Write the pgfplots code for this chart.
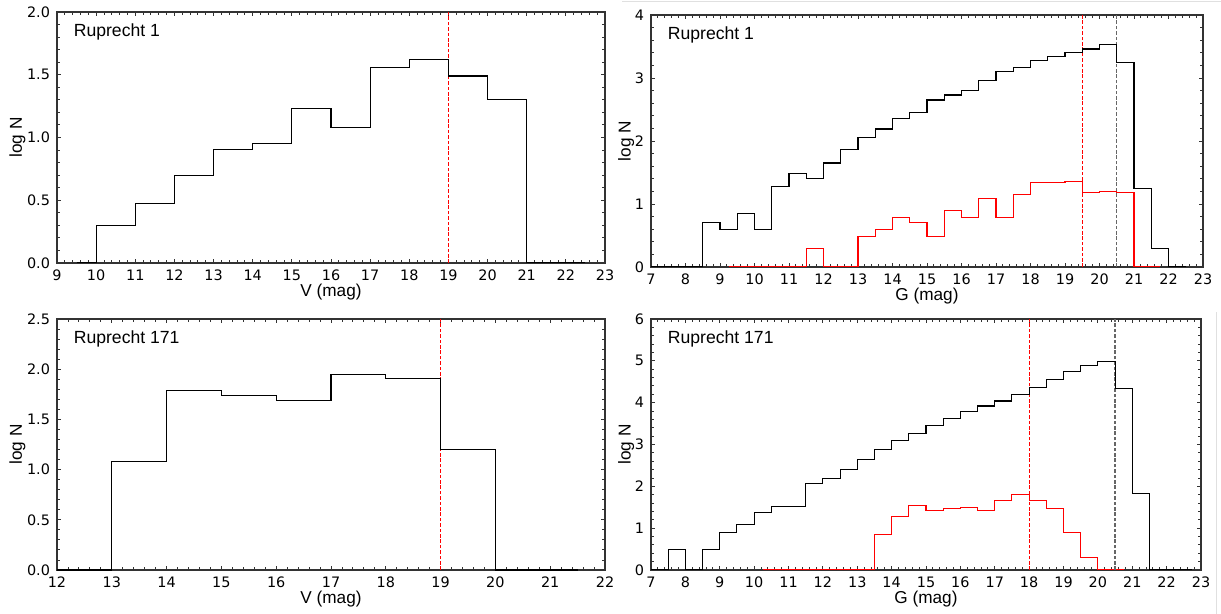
\documentclass[border=0pt]{standalone}
\usepackage{fontspec}
\setmainfont{Liberation Sans}
\newfontfamily\tickfont{DejaVu Sans}
\usepackage{pgfplots}
\pgfplotsset{compat=1.18}

\pgfplotsset{
  lfpanel/.style={
    scale only axis,
    anchor=north west,
    axis line style={black!80,line width=0.6pt},
    tick align=inside,
    xtick pos=both, ytick pos=both,
    xticklabel pos=lower, yticklabel pos=left,
    major tick length=2.2pt, minor tick length=1.3pt,
    every tick/.style={black!80,line width=0.45pt},
    minor x tick num=4, minor y tick num=4,
    tick label style={font=\tickfont\fontsize{7.2}{8}\selectfont},
    /pgf/number format/assume math mode=true,
    label style={font=\fontsize{8.6}{10}\selectfont},
    xlabel style={at={(axis description cs:0.5,-0.115)},anchor=center},
    ylabel style={at={(axis description cs:-0.072,0.5)},anchor=center},
    ylabel={log N},
  },
  rightpanel/.style={ylabel style={at={(axis description cs:-0.045,0.5)},anchor=center}},
  hist/.style={const plot, black, line width=0.55pt, mark=none},
  redhist/.style={const plot, red, line width=0.55pt, mark=none},
  cutred/.style={red, line width=0.55pt, dash pattern=on 1.8pt off 0.9pt},
  cutgray/.style={black!60, line width=0.6pt, dash pattern=on 1.8pt off 0.9pt},
  onedec/.style={yticklabel style={/pgf/number format/.cd,fixed,fixed zerofill,precision=1}},
}
\newcommand{\panelname}[1]{\node[anchor=west,inner sep=0pt,font=\fontsize{8.8}{10}\selectfont] at (rel axis cs:0.03,0.92) {#1};}

\begin{document}
\begin{tikzpicture}
\useasboundingbox (0,0) rectangle (610.5pt,-307pt);

% top left: V, Ruprecht 1
\begin{axis}[lfpanel, onedec,
  at={(28.5pt,-6pt)}, width=274pt, height=125.5pt,
  xmin=9, xmax=23, xtick={9,...,23},
  ymin=0, ymax=2, ytick={0,0.5,...,2},
  xlabel={V (mag)}]
\addplot[cutred] coordinates {(19,0) (19,2)};
\addplot[hist] coordinates {(9.5,0)(10,0.30)(11,0.477)(12,0.70)(13,0.903)(14,0.954)(15,1.23)(16,1.08)(17,1.556)(18,1.623)(19,1.49)(20,1.30)(21,0)(22.5,0)};
\panelname{Ruprecht 1}
\end{axis}

% top right: G, Ruprecht 1
\begin{axis}[lfpanel, rightpanel,
  at={(325.5pt,-7.5pt)}, width=276pt, height=126pt,
  xmin=7, xmax=23, xtick={7,...,23},
  ymin=0, ymax=4, ytick={0,...,4},
  xlabel={G (mag)}]
\addplot[redhist] coordinates {(9.25,0)(11.5,0.30)(12,0)(13,0.477)(13.5,0.60)(14,0.78)(14.5,0.70)(15,0.477)(15.5,0.90)(16,0.78)(16.5,1.08)(17,0.78)(17.5,1.15)(18,1.34)(18.5,1.34)(19,1.36)(19.5,1.18)(20,1.20)(20.5,1.18)(21,0)(21.75,0)};
\addplot[cutred] coordinates {(19.5,0) (19.5,4)};
\addplot[cutgray] coordinates {(20.5,0) (20.5,4)};
\addplot[hist] coordinates {(7,0)(8.5,0.70)(9,0.60)(9.5,0.85)(10,0.60)(10.5,1.28)(11,1.49)(11.5,1.41)(12,1.65)(12.5,1.86)(13,2.06)(13.5,2.19)(14,2.36)(14.5,2.45)(15,2.65)(15.5,2.73)(16,2.80)(16.5,2.96)(17,3.10)(17.5,3.17)(18,3.28)(18.5,3.34)(19,3.41)(19.5,3.46)(20,3.53)(20.5,3.25)(21,1.25)(21.5,0.30)(22,0)(22.5,0)};
\panelname{Ruprecht 1}
\end{axis}

% bottom left: V, Ruprecht 171
\begin{axis}[lfpanel, onedec,
  at={(28.5pt,-159.5pt)}, width=274pt, height=125.5pt,
  xmin=12, xmax=22, xtick={12,...,22},
  ymin=0, ymax=2.5, ytick={0,0.5,...,2.5},
  xlabel={V (mag)}]
\addplot[cutred] coordinates {(19,0) (19,2.5)};
\addplot[hist] coordinates {(12,0)(13,1.08)(14,1.79)(15,1.74)(16,1.69)(17,1.95)(18,1.91)(19,1.20)(20,0)(21.5,0)};
\panelname{Ruprecht 171}
\end{axis}

% bottom right: G, Ruprecht 171
\begin{axis}[lfpanel, rightpanel,
  at={(325.5pt,-159.5pt)}, width=275pt, height=125.5pt,
  xmin=7, xmax=23, xtick={7,...,23},
  ymin=0, ymax=6, ytick={0,...,6},
  xlabel={G (mag)}]
\addplot[redhist] coordinates {(10.25,0)(13.5,0.84)(14,1.28)(14.5,1.55)(15,1.43)(15.5,1.46)(16,1.49)(16.5,1.42)(17,1.66)(17.5,1.80)(18,1.66)(18.5,1.48)(19,0.90)(19.5,0.29)(20,0)(20.75,0)};
\addplot[cutred] coordinates {(18,0) (18,6)};
\addplot[cutgray] coordinates {(20.5,0) (20.5,6)};
\addplot[hist] coordinates {(7,0)(7.5,0.48)(8,0)(8.5,0.48)(9,0.90)(9.5,1.08)(10,1.38)(10.5,1.52)(11,1.52)(11.5,2.07)(12,2.18)(12.5,2.40)(13,2.65)(13.5,2.89)(14,3.10)(14.5,3.27)(15,3.45)(15.5,3.63)(16,3.79)(16.5,3.92)(17,4.04)(17.5,4.20)(18,4.36)(18.5,4.55)(19,4.75)(19.5,4.89)(20,4.99)(20.5,4.34)(21,1.82)(21.5,0)(22.75,0)};
\panelname{Ruprecht 171}
\end{axis}

% faint screenshot borders
\draw[black!12,line width=0.5pt] (311pt,-0.8pt) -- (610.5pt,-0.8pt);
\draw[black!12,line width=0.5pt] (608pt,-156pt) -- (608pt,-307pt);
\end{tikzpicture}
\end{document}
